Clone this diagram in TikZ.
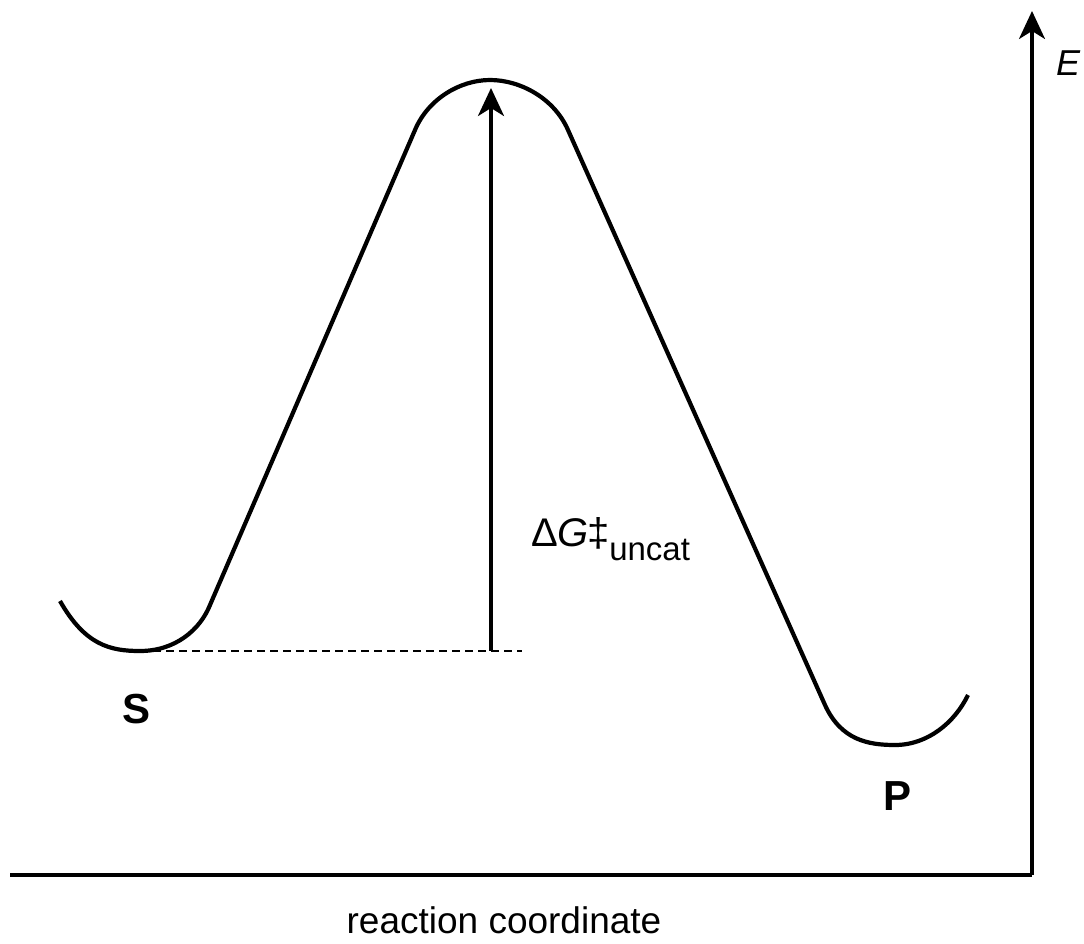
\documentclass[tikz,border=0pt]{standalone}
\usepackage{fontspec}
\setmainfont{Liberation Sans}
\usetikzlibrary{arrows.meta}
\tikzset{
  curve/.style={line width=4.2pt, line join=round},
  axis/.style={line width=3.2pt},
  bigarrow/.style={-{Stealth[length=28pt,width=26pt,inset=8pt]}},
  lbl/.style={font=\fontsize{42}{42}\selectfont\bfseries, inner sep=0pt},
}
\begin{document}
\begin{tikzpicture}[x=1pt,y=-1pt]
\useasboundingbox (0,0) rectangle (1084,943);
% axes
\coordinate (o) at (1032,875);
\coordinate (xend) at (10,875);
\coordinate (yend) at (1032,11);
\draw[axis] (xend) -- (o);
\draw[axis, bigarrow] (o) -- (yend);
\node[inner sep=0pt, anchor=base west, font=\fontsize{36}{36}\selectfont\itshape] (E) at (1056,75) {E};
\node[inner sep=0pt, anchor=base, font=\fontsize{37}{37}\selectfont] (rc) at (504,933) {reaction coordinate};
% energy curve
\coordinate (sa) at (60,601);
\coordinate (smin) at (140,651);
\coordinate (s1) at (210,605);
\coordinate (t1) at (415,130);
\coordinate (top) at (490,80);
\coordinate (t2) at (568,130);
\coordinate (p1) at (825,705);
\coordinate (pmin) at (895,745);
\coordinate (pb) at (968,695);
\draw[curve] (sa) .. controls (85,645) and (110,651) .. (smin)
  .. controls (175,651) and (200,630) .. (s1)
  -- (t1)
  .. controls (428,99) and (460,80) .. (top)
  .. controls (520,80) and (554,98) .. (t2)
  -- (p1)
  .. controls (841,740) and (868,745) .. (pmin)
  .. controls (928,745) and (955,722) .. (pb);
% dashed reference level
\coordinate (dend) at (522,651);
\coordinate (abase) at (491,651);
\coordinate (atip) at (491,88);
\draw[line width=1.5pt, dash pattern=on 8pt off 5pt] (smin) -- (dend);
\draw[line width=3.6pt, bigarrow] (abase) -- (atip);
\node[inner sep=0pt, anchor=base west] (dg) at (531,546) {\fontsize{40}{40}\selectfont Δ\textit{G}\kern-2pt‡\raisebox{-14pt}{\fontsize{33}{33}\selectfont uncat}};
% labels
\node[lbl, anchor=base] (S) at (137,723) {S};
\node[lbl, anchor=base] (P) at (897,810) {P};
\end{tikzpicture}
\end{document}
